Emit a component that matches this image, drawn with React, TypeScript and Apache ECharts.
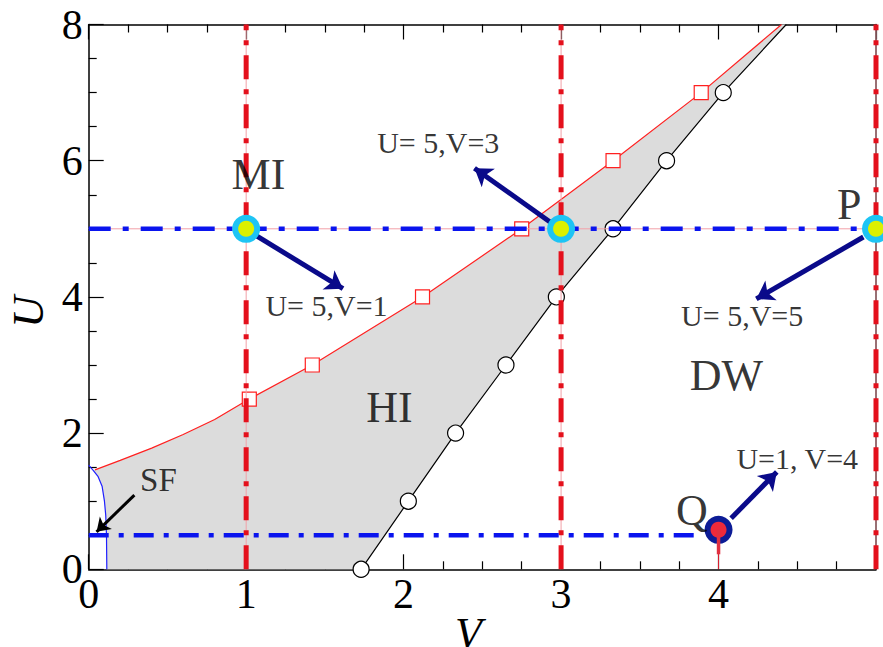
import React, { useEffect, useRef } from "react";
import * as echarts from "echarts";

// ---- data (V = x, U = y) ----
const sfV = [0.115, 0.113, 0.108, 0.1, 0.085, 0.06, 0.03, 0];
const sfU = [0, 0.5, 0.8, 1.0, 1.22, 1.36, 1.45, 1.53];

const redV = [0.04, 0.2, 0.4, 0.6, 0.8, 1.02, 1.42, 2.12, 2.75, 3.33, 3.89, 4.4];
const redU = [1.46, 1.6, 1.78, 1.98, 2.2, 2.5, 3.0, 4.0, 5.0, 6.0, 7.0, 8.0];
const redMarked = [false, false, false, false, false, true, true, true, true, true, true, false];

const blackV = [1.73, 2.03, 2.33, 2.65, 2.97, 3.33, 3.67, 4.03, 4.43];
const blackU = [0, 1, 2, 3, 4, 5, 6, 7, 8];
const blackMarked = [true, true, true, true, true, true, true, true, false];

const verticalV = [1, 3, 5];
const hLine5V = [0, 5];
const hLine5U = [5, 5];
const hLineQV = [0, 3.9];
const hLineQU = [0.5, 0.5];

const stateV = [1, 3, 5];
const stateU = [5, 5, 5];
const qPoint = [4, 0.58];
const qStemU = [0, 0.58];
const qStemThickU = [0.22, 0.58];

const navyArrows = [
  [[1.056, 4.91], [1.615, 4.12]],
  [[2.93, 5.1], [2.45, 5.89]],
  [[4.92, 4.88], [4.24, 3.97]],
  [[4.08, 0.75], [4.37, 1.43]],
];
const sfArrow = [[0.29, 1.09], [0.05, 0.55]];

const bigLabels = ["MI", "P", "DW", "HI", "Q"];
const bigLabelV = [1.078, 4.83, 4.05, 1.91, 3.83];
const bigLabelU = [5.8, 5.36, 2.84, 2.37, 0.86];

const noteLabels = ["U= 5,V=1", "U= 5,V=3", "U= 5,V=5", "U=1, V=4"];
const noteLabelV = [1.51, 2.22, 4.15, 4.5];
const noteLabelU = [3.88, 6.27, 3.72, 1.63];

const sfLabel = ["SF"];
const sfLabelV = [0.443];
const sfLabelU = [1.31];

const xTickMax = 5;

const FONT = "Liberation Serif";

function zip(a: number[], b: number[]) {
  return a.map((v, i) => [v, b[i]]);
}

export default function App() {
  const ref = useRef<HTMLDivElement>(null);
  useEffect(() => {
    if (!ref.current) return;
    const chart = echarts.init(ref.current, undefined, { renderer: "svg" });

    // polygon for shaded HI region
    const polyPts: number[][] = [];
    for (let i = 0; i < 7; i++) polyPts.push([sfV[i], sfU[i]]);
    for (let i = 0; i < redV.length; i++) polyPts.push([redV[i], redU[i]]);
    for (let i = blackV.length - 1; i >= 0; i--) polyPts.push([blackV[i], blackU[i]]);

    const redColor = "#e4101c";
    const pink = "#f2a0a8";
    const blue = "#0a14ee";
    const navy = "#0a0a8a";

    const series: any[] = [];

    series.push({
      type: "custom",
      coordinateSystem: "cartesian2d",
      z: 1,
      silent: true,
      data: [[0, 0]],
      renderItem: (_p: any, api: any) => ({
        type: "polygon",
        shape: { points: polyPts.map((p) => api.coord(p)) },
        style: { fill: "#dcdcdc" },
      }),
    });

    series.push({
      type: "line",
      z: 2,
      data: zip(sfV, sfU),
      showSymbol: false,
      lineStyle: { color: "#2020ff", width: 1.2 },
    });

    series.push({
      type: "line",
      z: 3,
      data: redV.map((v, i) => ({
        value: [v, redU[i]],
        symbol: redMarked[i] ? "rect" : "none",
      })),
      symbolSize: 14,
      itemStyle: { color: "#fff", borderColor: "#ff2020", borderWidth: 1.2 },
      lineStyle: { color: "#ff2020", width: 1.2 },
    });

    series.push({
      type: "line",
      z: 3,
      data: blackV.map((v, i) => ({
        value: [v, blackU[i]],
        symbol: blackMarked[i] ? "circle" : "none",
      })),
      symbolSize: 16,
      itemStyle: { color: "#fff", borderColor: "#000", borderWidth: 1.2 },
      lineStyle: { color: "#000", width: 1.2 },
    });

    // vertical red dash-dot lines
    verticalV.forEach((v) => {
      series.push({
        type: "line",
        z: 4,
        data: [[v, 0], [v, 8]],
        showSymbol: false,
        lineStyle: { color: pink, width: 1 },
      });
      series.push({
        type: "line",
        z: 4,
        data: [[v, 0], [v, 8]],
        showSymbol: false,
        lineStyle: { color: redColor, width: 5, type: [24, 10, 5, 10] },
      });
    });

    // horizontal blue dash-dot lines
    series.push({
      type: "line",
      z: 4,
      data: zip(hLine5V, hLine5U),
      showSymbol: false,
      lineStyle: { color: pink, width: 1 },
    });
    series.push({
      type: "line",
      z: 5,
      data: zip(hLine5V, hLine5U),
      showSymbol: false,
      lineStyle: { color: blue, width: 4.5, type: [22, 12, 6, 12] },
    });
    series.push({
      type: "line",
      z: 5,
      data: zip(hLineQV, hLineQU),
      showSymbol: false,
      lineStyle: { color: blue, width: 4.5, type: [20, 10, 5, 10] },
    });

    // Q stem
    series.push({
      type: "line",
      z: 5,
      data: qStemU.map((u) => [qPoint[0], u]),
      showSymbol: false,
      lineStyle: { color: "#e02030", width: 1 },
    });
    series.push({
      type: "line",
      z: 7,
      data: qStemThickU.map((u) => [qPoint[0], u]),
      showSymbol: false,
      lineStyle: { color: "#e03040", width: 3.5 },
    });

    // arrows
    series.push({
      type: "lines",
      coordinateSystem: "cartesian2d",
      z: 6,
      symbol: ["none", "arrow"],
      symbolSize: 17,
      lineStyle: { color: navy, width: 5, opacity: 1 },
      data: navyArrows.map((a) => ({ coords: a })),
    });
    series.push({
      type: "lines",
      coordinateSystem: "cartesian2d",
      z: 6,
      symbol: ["none", "arrow"],
      symbolSize: 13,
      lineStyle: { color: "#000", width: 3, opacity: 1 },
      data: [{ coords: sfArrow }],
    });

    // state points
    series.push({
      type: "scatter",
      z: 6,
      clip: false,
      data: zip(stateV, stateU),
      symbolSize: 28,
      itemStyle: { color: "#1ec4f4", opacity: 1 },
    });
    series.push({
      type: "scatter",
      z: 7,
      clip: false,
      data: zip(stateV, stateU),
      symbolSize: 16,
      itemStyle: { color: "#dcf000", opacity: 1 },
    });
    series.push({
      type: "scatter",
      z: 6,
      data: [qPoint],
      symbolSize: 28,
      itemStyle: { color: "#0c1c96", opacity: 1 },
    });
    series.push({
      type: "scatter",
      z: 6,
      data: [qPoint],
      symbolSize: 16,
      itemStyle: { color: "#ee2a3a", opacity: 1 },
    });

    const textSeries = (texts: string[], vs: number[], us: number[], size: number) => ({
      type: "scatter",
      z: 8,
      clip: false,
      symbolSize: 1,
      itemStyle: { color: "rgba(0,0,0,0)" },
      data: texts.map((t, i) => ({ value: [vs[i], us[i]], name: t })),
      label: {
        show: true,
        position: "inside",
        formatter: (p: any) => p.name,
        color: "#000",
        fontFamily: FONT,
        fontSize: size,
      },
    });
    series.push(textSeries(bigLabels, bigLabelV, bigLabelU, 44));
    series.push(textSeries(noteLabels, noteLabelV, noteLabelU, 30));
    series.push(textSeries(sfLabel, sfLabelV, sfLabelU, 33));

    const axisLine = { show: true, onZero: false, lineStyle: { color: "#000", width: 1.5 } };
    const tickStyle = { color: "#000", width: 1.2 };

    chart.setOption({
      animation: false,
      backgroundColor: "#fff",
      textStyle: { fontFamily: FONT },
      grid: {
        left: 88.7,
        right: 7,
        top: 24.5,
        bottom: 77.7,
        containLabel: false,
        outerBoundsMode: "none",
      },
      xAxis: [
        {
          type: "value",
          min: 0,
          max: xTickMax,
          interval: 1,
          position: "bottom",
          axisLine,
          axisTick: { show: true, inside: true, length: 15, lineStyle: tickStyle },
          minorTick: { show: true, splitNumber: 4, length: 8, lineStyle: tickStyle },
          splitLine: { show: false },
          axisLabel: {
            formatter: (v: number) => (v === xTickMax ? "" : String(v)),
            fontSize: 42,
            fontFamily: FONT,
            color: "#000",
            margin: 4,
          },
          name: "V",
          nameLocation: "middle",
          nameGap: 42,
          nameMoveOverlap: false,
          nameTextStyle: {
            fontFamily: FONT,
            fontStyle: "italic",
            fontSize: 44,
            color: "#000",
            padding: [0, 28, 0, 0],
          },
        },
        {
          type: "value",
          min: 0,
          max: xTickMax,
          interval: 1,
          position: "top",
          axisLine,
          axisTick: { show: true, inside: true, length: 15, lineStyle: tickStyle },
          minorTick: { show: true, splitNumber: 4, length: 8, lineStyle: tickStyle },
          splitLine: { show: false },
          axisLabel: { show: false },
        },
      ],
      yAxis: [
        {
          type: "value",
          min: 0,
          max: 8,
          interval: 2,
          position: "left",
          axisLine,
          axisTick: { show: true, inside: true, length: 15, lineStyle: tickStyle },
          minorTick: { show: true, splitNumber: 4, length: 8, lineStyle: tickStyle },
          splitLine: { show: false },
          axisLabel: { fontSize: 42, fontFamily: FONT, color: "#000", margin: 6 },
          name: "U",
          nameLocation: "middle",
          nameRotate: 90,
          nameGap: 38,
          nameMoveOverlap: false,
          nameTextStyle: {
            fontFamily: FONT,
            fontStyle: "italic",
            fontSize: 44,
            color: "#000",
            padding: [0, 30, 0, 0],
          },
        },
        {
          type: "value",
          min: 0,
          max: 8,
          interval: 2,
          position: "right",
          axisLine,
          axisTick: { show: false },
          splitLine: { show: false },
          axisLabel: { show: false },
        },
      ],
      series,
    });
    return () => chart.dispose();
  }, []);
  return (
    <div
      ref={ref}
      style={{ position: "fixed", left: 0, top: 0, width: 883, height: 647, background: "#fff" }}
    />
  );
}
